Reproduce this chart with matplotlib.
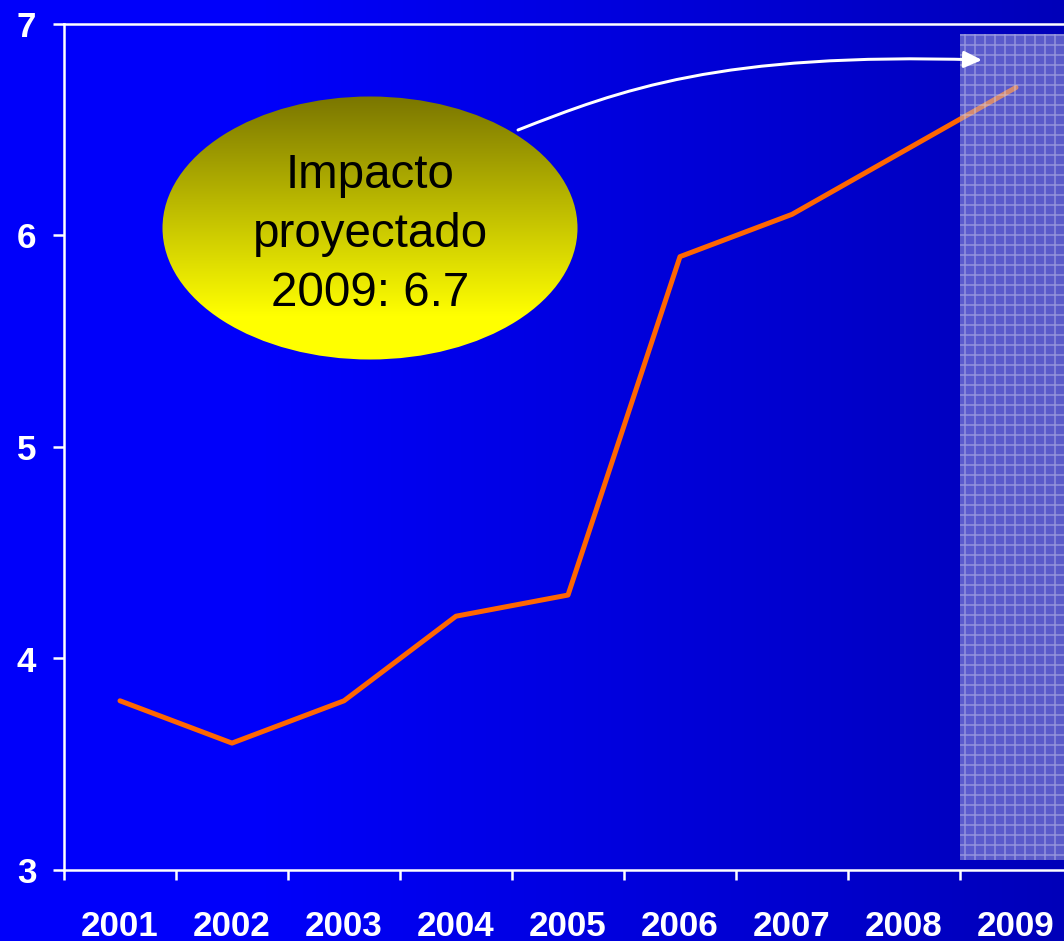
import numpy as np
import matplotlib
matplotlib.use("Agg")
import matplotlib.pyplot as plt
from matplotlib.patches import Ellipse, Rectangle, FancyArrowPatch
from matplotlib.path import Path

years = ["2001", "2002", "2003", "2004", "2005", "2006", "2007", "2008", "2009"]
impact = [3.8, 3.6, 3.8, 4.2, 4.3, 5.9, 6.1, 6.4, 6.7]
y_ticks = [3, 4, 5, 6, 7]
note = "Impacto\nproyectado\n2009: 6.7"
projected_from = 7.5  # category boundary where the projection begins

plt.rcParams["font.family"] = ["Liberation Sans", "DejaVu Sans"]

W, H, DPI = 1064, 941, 120
fig = plt.figure(figsize=(W / DPI, H / DPI), dpi=DPI)

# background: horizontal blue gradient
bg = fig.add_axes([0, 0, 1, 1], zorder=0)
t = np.clip((np.linspace(0, 1, 256) - 0.25) / 0.75, 0, 1)
grad = np.zeros((1, 256, 3))
grad[0, :, 2] = (250 - 65 * t) / 255
bg.imshow(grad, aspect="auto", extent=[0, 1, 0, 1])
bg.axis("off")

ax = fig.add_axes([64 / W, 1 - 870 / H, 1008 / W, 846 / H], zorder=1)
ax.set_facecolor("none")
x = np.arange(len(years))
ax.plot(x, impact, color="#ff6600", lw=3.0, solid_capstyle="round", zorder=2)

# projected period overlay (semi-transparent grid)
plt.rcParams["hatch.linewidth"] = 0.9
ax.add_patch(Rectangle((projected_from, 3.047), 1.2, 6.953 - 3.047,
                       facecolor=(0.68, 0.68, 0.85, 0.52), edgecolor="none", zorder=3))
ax.add_patch(Rectangle((projected_from, 3.047), 1.2, 6.953 - 3.047,
                       facecolor="none", edgecolor=(0.85, 0.85, 0.95, 0.45),
                       hatch="++", lw=0, zorder=3))

ax.set_xlim(-0.5, len(years) - 0.5)
ax.set_ylim(3, 7)
ax.set_yticks(y_ticks)
ax.set_yticklabels([str(v) for v in y_ticks])
ax.set_xticks(np.arange(len(years) + 1) - 0.5)
ax.set_xticklabels([])
ax.set_xticks(x, minor=True)
ax.set_xticklabels(years, minor=True)
ax.tick_params(axis="x", which="major", length=6, width=1.5, color="white", direction="out")
ax.tick_params(axis="x", which="minor", length=0, pad=24, labelsize=21, labelcolor="white")
ax.tick_params(axis="y", length=6.6, width=1.5, color="white", pad=10,
               labelsize=21, labelcolor="white")
for lab in ax.get_xticklabels(minor=True) + ax.get_yticklabels():
    lab.set_fontweight("bold")
for side in ["left", "bottom", "top"]:
    ax.spines[side].set_color("white")
    ax.spines[side].set_linewidth(1.5)
ax.spines["right"].set_visible(False)

# callout in pixel coordinates
ov = fig.add_axes([0, 0, 1, 1], zorder=4)
ov.set_xlim(0, W)
ov.set_ylim(H, 0)
ov.axis("off")
ell = Ellipse((370, 228), 415, 263, facecolor="none", edgecolor="none")
ov.add_patch(ell)
yg = np.linspace(0, 1, 256)[:, None]
c0 = np.array([122, 118, 0]) / 255
c1 = np.array([255, 255, 0]) / 255
mix = np.clip(yg * 1.2, 0, 1)[:, :, None]
egrad = c0 * (1 - mix) + c1 * mix
im = ov.imshow(egrad, aspect="auto", extent=[162, 578, 360, 96])
im.set_clip_path(ell)
ov.set_xlim(0, W)
ov.set_ylim(H, 0)
ov.text(370, 234, note, ha="center", va="center", fontsize=28.5,
        color="black", linespacing=1.4)

curve = Path([(518, 130), (620, 90), (720, 52), (982, 60)],
             [Path.MOVETO, Path.CURVE4, Path.CURVE4, Path.CURVE4])
ov.add_patch(FancyArrowPatch(path=curve, transform=ov.transData,
                             arrowstyle="-|>,head_length=0.75,head_width=0.35",
                             color="white", lw=1.8, mutation_scale=12))

fig.savefig("out.png", dpi=DPI)
